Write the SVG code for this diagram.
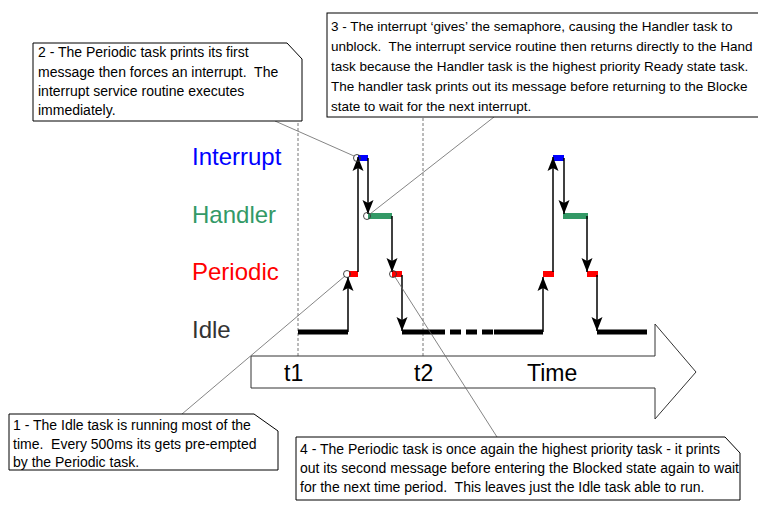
<svg xmlns="http://www.w3.org/2000/svg" width="758" height="510" viewBox="0 0 758 510">
<style>
.note{fill:#fff;stroke:#000;stroke-width:1}
.nt{font-family:"Liberation Sans",Arial,sans-serif;font-size:14px;fill:#000;white-space:pre}
.nt3{font-size:13.5px}
.lbl{font-family:"Liberation Sans",Arial,sans-serif;font-size:24px}
.tl{font-family:"Liberation Sans",Arial,sans-serif;font-size:23px;fill:#000}
.guide{stroke:#777;stroke-width:1;stroke-dasharray:3,2;fill:none}
.lead{stroke:#666;stroke-width:0.8;fill:none}
.arr{stroke:#000;stroke-width:1.5;fill:none;marker-end:url(#ah)}
.dot{fill:none;stroke:#333;stroke-width:0.9}
</style>
<defs>
<marker id="ah" markerUnits="userSpaceOnUse" viewBox="0 -6 15 12" refX="14" refY="0" markerWidth="15" markerHeight="12" orient="auto">
<path d="M14,0 L0,-5.5 L3,0 L0,5.5 Z" fill="#000"/>
</marker>
</defs>
<rect width="758" height="510" fill="#fff"/>

<g id="guides">
<line class="guide" x1="298" y1="123" x2="298" y2="356"/>
<line class="guide" x1="423" y1="118" x2="423" y2="356"/>
</g>

<g id="time-axis">
<polygon points="251,356 655,356 655,324 696,372 655,419 655,388 251,388" fill="#fff" stroke="#333" stroke-width="1"/>
<text class="tl" x="284" y="381">t1</text>
<text class="tl" x="414" y="381">t2</text>
<text class="tl" x="527" y="381">Time</text>
</g>

<g id="task-labels">
<text class="lbl" x="192" y="165" fill="#0000ff">Interrupt</text>
<text class="lbl" x="192" y="223" fill="#339966">Handler</text>
<text class="lbl" x="192" y="280" fill="#ff0000">Periodic</text>
<text class="lbl" x="192" y="338" fill="#333">Idle</text>
</g>

<g id="idle-bars" fill="#000">
<rect x="298" y="329.5" width="50" height="5"/>
<rect x="402" y="329.5" width="43" height="5"/>
<rect x="450" y="329.5" width="11" height="5"/>
<rect x="466" y="329.5" width="11" height="5"/>
<rect x="482" y="329.5" width="11" height="5"/>
<rect x="494" y="329.5" width="49" height="5"/>
<rect x="597" y="329.5" width="50" height="5"/>
</g>

<g id="periodic-bars" fill="#ff0000">
<rect x="349" y="271" width="9" height="6"/>
<rect x="392" y="271" width="10" height="6"/>
<rect x="543" y="271" width="11" height="6"/>
<rect x="587" y="271" width="11" height="6"/>
</g>

<g id="handler-bars" fill="#339966">
<rect x="368" y="213" width="24" height="6"/>
<rect x="563" y="213" width="25" height="6"/>
</g>

<g id="interrupt-bars" fill="#0000ff">
<rect x="358" y="155" width="10" height="6"/>
<rect x="553" y="155" width="11" height="6"/>
</g>

<g id="connectors">
<line class="arr" x1="348" y1="332" x2="348" y2="277"/>
<line class="arr" x1="358" y1="272" x2="358" y2="157"/>
<line class="arr" x1="368" y1="158" x2="368" y2="214"/>
<line class="arr" x1="392" y1="216" x2="392" y2="272"/>
<line class="arr" x1="402" y1="275" x2="402" y2="331"/>
<line class="arr" x1="543" y1="332" x2="543" y2="277"/>
<line class="arr" x1="553" y1="272" x2="553" y2="157"/>
<line class="arr" x1="564" y1="158" x2="564" y2="214"/>
<line class="arr" x1="587" y1="216" x2="587" y2="272"/>
<line class="arr" x1="597" y1="275" x2="597" y2="331"/>
<line class="lead" x1="182" y1="414" x2="345" y2="276"/>
<line class="lead" x1="275" y1="121" x2="354" y2="156"/>
<line class="lead" x1="494" y1="117" x2="370" y2="214"/>
<line class="lead" x1="395" y1="277" x2="497" y2="437"/>
<circle class="dot" cx="347" cy="274" r="3.5"/>
<circle class="dot" cx="357" cy="158" r="3.5"/>
<circle class="dot" cx="367" cy="216" r="3.5"/>
<circle class="dot" cx="393" cy="274" r="3.5"/>
</g>

<g id="note1">
<polygon class="note" points="9,414 254,414 278,431 278,470 9,470"/>
<text class="nt" x="13" y="430">1 - The Idle task is running most of the</text>
<text class="nt" x="13" y="449">time.  Every 500ms its gets pre-empted</text>
<text class="nt" x="13" y="467">by the Periodic task.</text>
</g>

<g id="note2">
<polygon class="note" points="33,43 287,43 302,59 302,121 33,121"/>
<text class="nt" x="38" y="57">2 - The Periodic task prints its first</text>
<text class="nt" x="38" y="77">message then forces an interrupt.  The</text>
<text class="nt" x="38" y="96">interrupt service routine executes</text>
<text class="nt" x="38" y="115">immediately.</text>
</g>

<g id="note3">
<rect class="note" x="327" y="13" width="450" height="104"/>
<text class="nt nt3" x="331" y="31">3 - The interrupt ‘gives’ the semaphore, causing the Handler task to</text>
<text class="nt nt3" x="331" y="51">unblock.  The interrupt service routine then returns directly to the Hand</text>
<text class="nt nt3" x="331" y="71">task because the Handler task is the highest priority Ready state task.</text>
<text class="nt nt3" x="331" y="91">The handler task prints out its message before returning to the Blocke</text>
<text class="nt nt3" x="331" y="111">state to wait for the next interrupt.</text>
</g>

<g id="note4">
<polygon class="note" points="296,437 725,437 740,453 740,500 296,500"/>
<text class="nt" x="300" y="454">4 - The Periodic task is once again the highest priority task - it prints</text>
<text class="nt" x="300" y="473">out its second message before entering the Blocked state again to wait</text>
<text class="nt" x="300" y="492">for the next time period.  This leaves just the Idle task able to run.</text>
</g>
</svg>
